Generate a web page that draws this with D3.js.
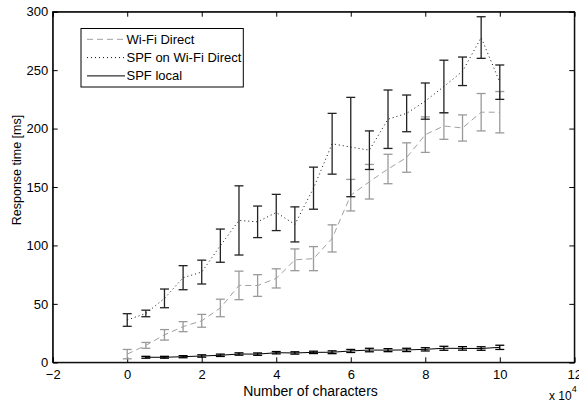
<!DOCTYPE html>
<html><head><meta charset="utf-8">
<script src="https://cdn.jsdelivr.net/npm/d3@7"></script>
<style>body{margin:0;background:#fff}svg{display:block}text{font-family:"Liberation Sans",Arial,sans-serif;}</style>
</head><body><svg id="c" width="579" height="402"></svg>
<script>
const xVals = [0,0.5,1,1.5,2,2.5,3,3.5,4,4.5,5,5.5,6,6.5,7,7.5,8,8.5,9,9.5,10];
const wifiMean = [7,14.5,23.5,30.5,35.5,46.5,65.8,65.7,71.8,87.7,88.7,106,143,154.5,165.4,175.2,194.8,202.2,200.5,214,214];
const wifiErr  = [4,2.5,4.5,4.3,5.5,7.5,12.2,9.3,8.2,9.3,10.3,11.6,13.5,14.8,12.6,12.6,15.2,11.4,11.2,16,17.7];
const spfMean = [36.2,41.8,54.7,72.4,77.2,99.8,121.4,120.2,128.2,118,149,187,184.2,181.5,208,213,223.5,236,249,277.9,239.7];
const spfErr  = [5.4,2.8,8,10.3,10.2,14.2,29.6,13.5,15.5,15,18,26,42.5,16.5,25,15.7,15.5,22.5,12.2,17.8,14.7];
const localX    = [0.5,1,1.5,2,2.5,3,3.5,4,4.5,5,5.5,6,6.5,7,7.5,8,8.5,9,9.5,10];
const localMean = [4.3,4.3,4.8,5.4,6.0,7.1,7.0,8.2,8.0,8.5,8.6,9.7,10.5,10.4,10.6,11.1,12.0,11.9,11.8,12.8];
const localErr  = [0.8,0.8,0.9,1,1,1,1,1,1,1,1.2,1.3,1.5,1.3,1.4,1.4,1.7,1.5,1.5,1.8];
const xTicks = [-2,0,2,4,6,8,10,12];
const yTicks = [0,50,100,150,200,250,300];
const seriesNames = ["Wi-Fi Direct","SPF on Wi-Fi Direct","SPF local"];

const L=52.7,R=574.3,T=11.7,B=362.3;
const svg=d3.select("#c");
const x=d3.scaleLinear().domain([-2,12]).range([L,R]);
const y=d3.scaleLinear().domain([0,300]).range([B,T]);
const FF='"Liberation Sans",Arial,sans-serif';
const fs="13px";
svg.append("rect").attr("x",L).attr("y",T).attr("width",R-L).attr("height",B-T).attr("fill","#fff").attr("stroke","#000").attr("stroke-width",1);

const ax=svg.append("g").attr("transform",`translate(0,${B})`).call(d3.axisBottom(x).tickValues(xTicks).tickSize(-5).tickPadding(0).tickFormat(d3.format("d")));
ax.selectAll("text").attr("dy",null).attr("y",16.4);
const axT=svg.append("g").attr("transform",`translate(0,${T})`).call(d3.axisTop(x).tickValues(xTicks).tickSize(-5).tickFormat(""));
const ay=svg.append("g").attr("transform",`translate(${L},0)`).call(d3.axisLeft(y).tickValues(yTicks).tickSize(-5).tickPadding(4.5));
const ayR=svg.append("g").attr("transform",`translate(${R},0)`).call(d3.axisRight(y).tickValues(yTicks).tickSize(-5).tickFormat(""));
[ax,axT,ay,ayR].forEach(g=>{g.select(".domain").attr("stroke","#000");g.selectAll("line").attr("stroke","#000");g.selectAll("text").attr("font-size",fs).attr("fill","#000").attr("font-family",FF);});

function drawSeries(xs,means,errs,lineColor,dash,barColor,capW){
  const g=svg.append("g");
  xs.forEach((xv,i)=>{
    const cx=x(xv),y1=y(means[i]+errs[i]),y0=y(means[i]-errs[i]);
    g.append("line").attr("x1",cx).attr("x2",cx).attr("y1",y1).attr("y2",y0).attr("stroke",barColor).attr("stroke-width",1.3);
    [y1,y0].forEach(yy=>g.append("line").attr("x1",cx-capW).attr("x2",cx+capW).attr("y1",yy).attr("y2",yy).attr("stroke",barColor).attr("stroke-width",1.3));
  });
  const line=d3.line().x((d,i)=>x(xs[i])).y(d=>y(d));
  g.append("path").attr("d",line(means)).attr("fill","none").attr("stroke",lineColor).attr("stroke-width",1).attr("stroke-dasharray",dash);
}
drawSeries(xVals,wifiMean,wifiErr,"#a0a0a0","6,4","#9a9a9a",4.5);
drawSeries(xVals,spfMean,spfErr,"#111","1,3","#222",4.5);
drawSeries(localX,localMean,localErr,"#000",null,"#000",4.5);

svg.append("text").attr("x",310.5).attr("y",396).attr("text-anchor","middle").attr("font-size","14px").text("Number of characters");
svg.append("text").attr("transform",`translate(21,170) rotate(-90)`).attr("text-anchor","middle").attr("font-size","12.5px").text("Response time [ms]");
const ex=svg.append("text").attr("x",549).attr("y",400).attr("font-size","12px");
ex.append("tspan").text("x 10");
ex.append("tspan").attr("dy",-8).attr("font-size","9px").text("4");

const lg=svg.append("g");
lg.append("rect").attr("x",81).attr("y",28.5).attr("width",162.3).attr("height",58.5).attr("fill","#fff").attr("stroke","#000");
const lgStyle=[["#a0a0a0","6,4"],["#111","1,3"],["#000",null]];
seriesNames.forEach((n,i)=>{
  const yy=39.3+i*18.3;
  lg.append("line").attr("x1",87).attr("x2",125).attr("y1",yy).attr("y2",yy).attr("stroke",lgStyle[i][0]).attr("stroke-dasharray",lgStyle[i][1]);
  lg.append("text").attr("x",126.5).attr("y",yy+4.2).attr("font-size","13px").text(n);
});
</script></body></html>
